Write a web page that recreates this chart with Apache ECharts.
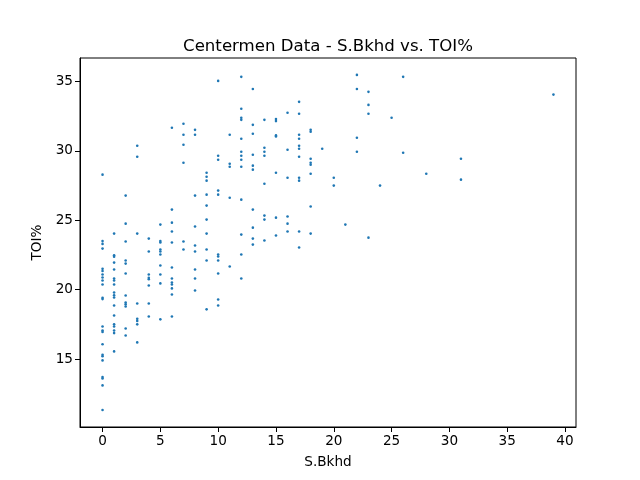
<!DOCTYPE html>
<html>
<head>
<meta charset="utf-8">
<script src="https://cdn.jsdelivr.net/npm/echarts@6/dist/echarts.min.js"></script>
<style>
	html, body { margin: 0; padding: 0; background: #fff; }
	#main { width: 640px; height: 480px; }
</style>
</head>
<body>
<div id="main"></div>
<script>
// S.Bkhd values (x) and the TOI% values found at each of them
var bkhdValues = [0, 1, 2, 3, 4, 5, 6, 7, 8, 9, 10, 11, 12, 13, 14, 15, 16, 17, 18, 19, 20, 21, 22, 23, 24, 25, 26, 28, 31, 39];
var toiByBkhd = [
	[28.29, 23.5, 23.3, 22.96, 21.5, 21.35, 21.09, 20.88, 20.66, 20.37, 19.42, 19.32, 17.35, 17.05, 16.95, 16.06, 15.3, 15.2, 14.9, 13.7, 13.6, 13.1, 11.33],
	[24.04, 22.48, 22.38, 21.95, 21.45, 20.8, 20.66, 20.37, 19.8, 19.6, 19.44, 18.86, 18.14, 17.5, 17.35, 17.06, 16.87, 15.55],
	[26.78, 24.76, 23.47, 22.1, 21.88, 21.17, 19.58, 19.08, 18.94, 18.79, 17.2, 16.7],
	[30.37, 29.58, 24.04, 19.0, 17.9, 17.75, 17.5, 16.2],
	[23.68, 22.75, 21.09, 20.85, 20.75, 20.3, 19.0, 18.07],
	[24.69, 23.5, 23.4, 22.9, 22.75, 22.53, 21.74, 21.09, 20.45, 17.86],
	[31.67, 25.77, 24.83, 24.19, 23.4, 21.6, 20.8, 20.52, 20.37, 20.09, 19.65, 18.07],
	[31.96, 31.17, 30.45, 29.15, 23.47, 22.9],
	[31.52, 31.17, 26.78, 24.55, 23.18, 22.75, 21.45, 20.8, 19.94],
	[28.43, 28.14, 27.86, 26.85, 26.06, 25.05, 24.04, 22.9, 22.1, 18.58],
	[35.05, 29.65, 29.37, 27.14, 26.85, 22.53, 22.39, 22.1, 21.17, 19.29, 18.86],
	[31.17, 29.08, 28.86, 26.63, 21.67],
	[35.34, 33.04, 32.39, 32.24, 30.88, 29.94, 29.65, 29.37, 28.86, 26.49, 23.97, 22.53, 20.8],
	[34.47, 31.88, 31.24, 29.73, 28.94, 28.65, 25.77, 24.47, 23.68, 23.25],
	[32.24, 30.23, 29.94, 29.65, 27.64, 25.34, 25.05, 23.54],
	[32.3, 32.15, 31.12, 31.05, 28.43, 25.19, 23.9],
	[32.75, 30.09, 28.07, 25.27, 24.76, 24.19],
	[33.54, 32.68, 31.17, 30.88, 30.37, 30.16, 29.58, 28.07, 27.86, 24.19, 23.04],
	[31.52, 31.38, 29.44, 29.15, 29.0, 28.36, 25.99, 24.04],
	[30.16],
	[28.07, 27.5],
	[24.69],
	[35.48, 34.47, 30.95, 29.94],
	[34.26, 33.32, 32.68, 23.75],
	[27.5],
	[32.39],
	[35.34, 29.87],
	[28.36],
	[29.44, 27.93],
	[34.06]
];
var xTicks = [0, 5, 10, 15, 20, 25, 30, 35, 40];
var yTicks = [15, 20, 25, 30, 35];

var points = [];
for (var i = 0; i < bkhdValues.length; i++) {
	for (var j = 0; j < toiByBkhd[i].length; j++) {
		points.push([bkhdValues[i], toiByBkhd[i][j]]);
	}
}

var font = 'DejaVu Sans';
var chart = echarts.init(document.getElementById('main'), null, { renderer: 'canvas' });

chart.setOption({
	animation: false,
	backgroundColor: '#fff',
	title: {
		text: 'Centermen Data - S.Bkhd vs. TOI%',
		left: 323,
		top: 33,
		textAlign: 'center',
		textStyle: { fontFamily: font, fontSize: 16.6, fontWeight: 'normal', color: '#000' }
	},
	grid: {
		left: 80,
		right: 64,
		top: 58,
		bottom: 53,
		show: true,
		borderColor: '#000',
		borderWidth: 1
	},
	xAxis: {
		type: 'value',
		min: -1.95,
		max: 40.95,
		name: 'S.Bkhd',
		nameLocation: 'middle',
		nameGap: 28,
		nameTextStyle: { fontFamily: font, fontSize: 13.6, color: '#000' },
		splitLine: { show: false },
		axisLine: { show: true, onZero: false, lineStyle: { color: '#000', width: 1 } },
		axisTick: { show: true, length: 5, customValues: xTicks, lineStyle: { color: '#000' } },
		axisLabel: { customValues: xTicks, margin: 7, fontFamily: font, fontSize: 13.6, color: '#000' }
	},
	yAxis: {
		type: 'value',
		min: 10.1,
		max: 36.7,
		name: 'TOI%',
		nameLocation: 'middle',
		nameGap: 36,
		nameTextStyle: { fontFamily: font, fontSize: 13.6, color: '#000' },
		splitLine: { show: false },
		axisLine: { show: true, onZero: false, lineStyle: { color: '#000', width: 1 } },
		axisTick: { show: true, length: 5, customValues: yTicks, lineStyle: { color: '#000' } },
		axisLabel: { customValues: yTicks, margin: 7, fontFamily: font, fontSize: 13.6, color: '#000' }
	},
	series: [{
		type: 'scatter',
		data: points,
		symbol: 'circle',
		symbolSize: 2.6,
		itemStyle: { color: '#1f77b4', opacity: 1 }
	}]
});
</script>
</body>
</html>
